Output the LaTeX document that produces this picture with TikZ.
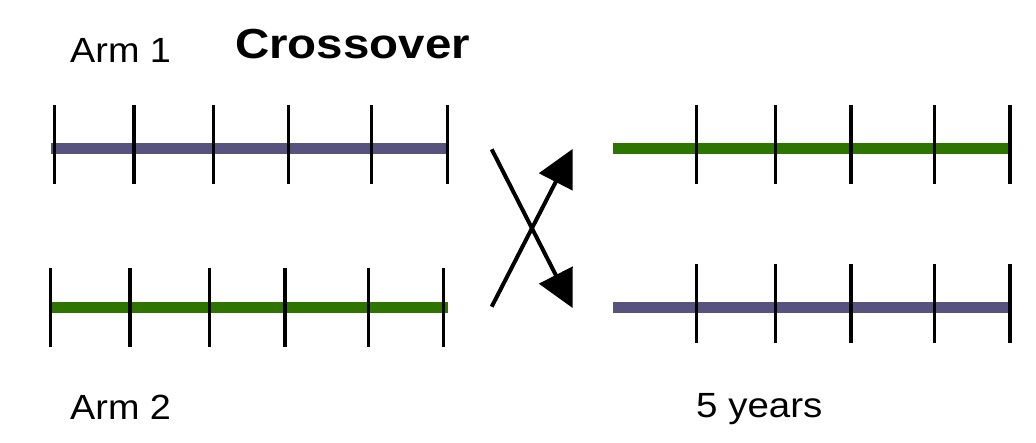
\documentclass[tikz,border=0pt]{standalone}
\usepackage{fontspec}
\setmainfont{Liberation Sans}
\usetikzlibrary{arrows.meta}
\definecolor{armpurple}{RGB}{88,82,126}
\definecolor{armgreen}{RGB}{46,117,0}
\begin{document}
\begin{tikzpicture}[x=1pt,y=-1pt,
  bar/.style={line width=11pt},
  tick/.style={line width=3.4pt,black},
  cross/.style={line width=4pt,black,-{Triangle[length=37pt,width=37pt]}},
  lbl/.style={anchor=base west,inner sep=0pt,font=\fontsize{35}{40}\selectfont},
  ttl/.style={anchor=base west,inner sep=0pt,font=\fontsize{42}{48}\selectfont\bfseries}]
\useasboundingbox (0,0) rectangle (1036,443);
% top left: Arm 1 bar
\draw[bar,armpurple] (51,148.5) -- (447,148.5);
\foreach \x in {54.3,134,213.3,288.7,371.7,447.3}
  \draw[tick] (\x,105) -- (\x,184);
% bottom left: Arm 2 bar
\draw[bar,armgreen] (51.7,307.5) -- (447.7,307.5);
\foreach \x in {50.7,130,209.3,285,368.3,443.7}
  \draw[tick] (\x,268.3) -- (\x,346.7);
% top right
\draw[bar,armgreen] (613,148.5) -- (1009,148.5);
\foreach \x in {696.7,775.7,851,934.3,1010}
  \draw[tick] (\x,105) -- (\x,184);
% bottom right
\draw[bar,armpurple] (613,307.5) -- (1009,307.5);
\foreach \x in {696.7,775.7,851,934.3,1010}
  \draw[tick] (\x,264) -- (\x,342.7);
% crossover arrows
\coordinate (s1) at (491.7,149.3);
\coordinate (e1) at (572.6,308);
\coordinate (s2) at (491.7,306.7);
\coordinate (e2) at (572.6,149);
\draw[cross] (s1) -- (e1);
\draw[cross] (s2) -- (e2);
% labels
\node[lbl] (arm1) at (70,62.3) {\scalebox{1.08}[1]{Arm 1}};
\node[ttl] (title) at (235,59) {\scalebox{1.13}[1]{Crossover}};
\node[lbl] (arm2) at (70,419.3) {\scalebox{1.08}[1]{Arm 2}};
\node[lbl] (yrs) at (696,417.7) {\scalebox{1.1}[1]{5 years}};
\end{tikzpicture}
\end{document}
